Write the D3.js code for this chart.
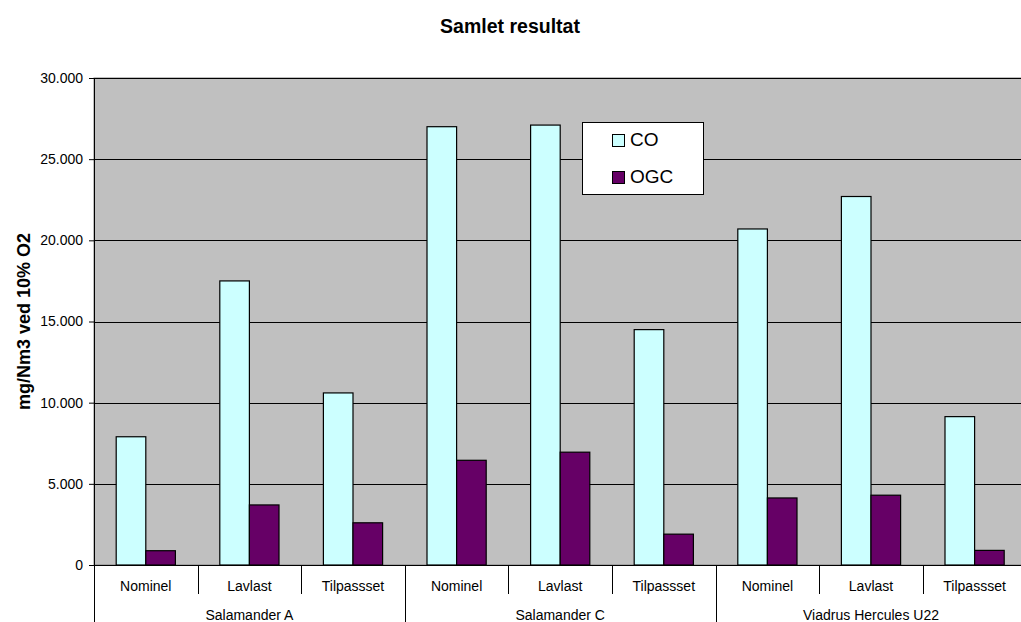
<!DOCTYPE html>
<html>
<head>
<meta charset="utf-8">
<script src="https://cdn.jsdelivr.net/npm/d3@7"></script>
<style>
  html, body { margin: 0; padding: 0; background: #fff; }
  svg { display: block; font-family: "Liberation Sans", Arial, sans-serif; }
</style>
</head>
<body>
<svg id="chart" width="1021" height="622"></svg>
<script>
// Boiler groups and operating conditions
const groups = ["Salamander A", "Salamander C", "Viadrus Hercules U22"];
const conditions = ["Nominel", "Lavlast", "Tilpassset"];
const seriesNames = ["CO", "OGC"];

// Measured emissions, mg/Nm3 at 10% O2 (one entry per group × condition)
const coValues  = [7900, 17500, 10600, 27000, 27100, 14500, 20700, 22700, 9140];
const ogcValues = [880, 3700, 2600, 6450, 6950, 1900, 4130, 4300, 900];

const yTicks = [0, 5000, 10000, 15000, 20000, 25000, 30000];

const colors = { CO: "#CCFFFF", OGC: "#660066" };

// Build one row per category slot
const rows = [];
groups.forEach((g, gi) => {
  conditions.forEach((c, ci) => {
    const i = gi * conditions.length + ci;
    rows.push({ key: g + "|" + c, group: g, cond: c, CO: coValues[i], OGC: ogcValues[i] });
  });
});

const svg = d3.select("#chart");
const plot = { left: 94, top: 78, bottom: 565 };
const step = 103.6;
plot.right = plot.left + step * rows.length;

const fmt = d3.formatLocale({ decimal: ",", thousands: ".", grouping: [3], currency: ["", ""] }).format(",");

const x0 = d3.scaleBand().domain(rows.map(d => d.key)).range([plot.left, plot.right]).paddingInner(0).paddingOuter(0);
const x1 = d3.scaleBand().domain(seriesNames).range([0, x0.bandwidth()]).paddingInner(0).paddingOuter(0.75);
const y = d3.scaleLinear().domain([0, 30000]).range([plot.bottom, plot.top]);

// Title
svg.append("text")
  .attr("x", 510).attr("y", 33)
  .attr("text-anchor", "middle")
  .attr("font-size", 19.5).attr("font-weight", "bold")
  .attr("fill", "#000")
  .text("Samlet resultat");

// Plot area background
svg.append("rect")
  .attr("x", plot.left).attr("y", plot.top)
  .attr("width", plot.right - plot.left).attr("height", plot.bottom - plot.top)
  .attr("fill", "#C0C0C0")
  .attr("stroke", "#808080").attr("stroke-width", 1);

// Horizontal gridlines
svg.append("g")
  .selectAll("line")
  .data(yTicks.filter(t => t > 0))
  .join("line")
  .attr("x1", plot.left).attr("x2", plot.right)
  .attr("y1", d => Math.round(y(d)) + 0.5).attr("y2", d => Math.round(y(d)) + 0.5)
  .attr("stroke", "#000").attr("stroke-width", 1);

// Bars
const cat = svg.append("g")
  .selectAll("g")
  .data(rows)
  .join("g")
  .attr("transform", d => `translate(${x0(d.key)},0)`);

cat.selectAll("rect")
  .data(d => seriesNames.map(s => ({ s, v: d[s] })))
  .join("rect")
  .attr("x", d => x1(d.s))
  .attr("y", d => y(d.v))
  .attr("width", x1.bandwidth())
  .attr("height", d => y(0) - y(d.v))
  .attr("fill", d => colors[d.s])
  .attr("stroke", "#000").attr("stroke-width", 1.2);

// Y axis
const yAxis = d3.axisLeft(y).tickValues(yTicks).tickSize(5).tickPadding(6).tickFormat(d => fmt(d));
const yg = svg.append("g").attr("transform", `translate(${plot.left},0)`).call(yAxis);
yg.select(".domain").attr("stroke", "#000");
yg.selectAll(".tick line").attr("stroke", "#000");
yg.selectAll(".tick text")
  .attr("font-family", "Liberation Sans, Arial, sans-serif")
  .attr("font-size", 14).attr("fill", "#000");

// Y axis title
svg.append("text")
  .attr("transform", `translate(30,${(plot.top + plot.bottom) / 2}) rotate(-90)`)
  .attr("text-anchor", "middle")
  .attr("font-size", 18).attr("font-weight", "bold")
  .attr("fill", "#000")
  .text("mg/Nm3 ved 10% O2");

// Category axis line
svg.append("line")
  .attr("x1", plot.left - 5).attr("x2", plot.right)
  .attr("y1", plot.bottom + 0.5).attr("y2", plot.bottom + 0.5)
  .attr("stroke", "#000").attr("stroke-width", 1);

// Left axis extension down through the label rows
svg.append("line")
  .attr("x1", plot.left + 0.5).attr("x2", plot.left + 0.5)
  .attr("y1", plot.bottom).attr("y2", 622)
  .attr("stroke", "#000");

// Separators between conditions (short) and between groups (long)
const xAxisG = svg.append("g");
rows.forEach((d, i) => {
  if (i === 0) return;
  const xs = Math.round(x0(d.key)) + 0.5;
  const isGroupEdge = i % conditions.length === 0;
  xAxisG.append("line")
    .attr("x1", xs).attr("x2", xs)
    .attr("y1", plot.bottom).attr("y2", isGroupEdge ? 622 : 594)
    .attr("stroke", "#000");
});

// Condition labels
xAxisG.selectAll("text.cond")
  .data(rows)
  .join("text")
  .attr("class", "cond")
  .attr("x", d => x0(d.key) + x0.bandwidth() / 2)
  .attr("y", 591)
  .attr("text-anchor", "middle")
  .attr("font-size", 14).attr("fill", "#000")
  .text(d => d.cond);

// Group labels
xAxisG.selectAll("text.grp")
  .data(groups)
  .join("text")
  .attr("class", "grp")
  .attr("x", (g, gi) => {
    const first = rows[gi * conditions.length].key;
    return x0(first) + x0.bandwidth() * conditions.length / 2;
  })
  .attr("y", 620)
  .attr("text-anchor", "middle")
  .attr("font-size", 14).attr("fill", "#000")
  .text(d => d);

// Legend
const legend = svg.append("g").attr("transform", "translate(582,122)");
legend.append("rect")
  .attr("x", 0.5).attr("y", 0.5).attr("width", 121).attr("height", 72)
  .attr("fill", "#fff").attr("stroke", "#000").attr("stroke-width", 1);
seriesNames.forEach((s, i) => {
  const yy = 12 + i * 37;
  legend.append("rect")
    .attr("x", 30.5).attr("y", yy + 0.5).attr("width", 12).attr("height", 12)
    .attr("fill", colors[s]).attr("stroke", "#000").attr("stroke-width", 1);
  legend.append("text")
    .attr("x", 48).attr("y", yy + 12)
    .attr("font-size", 19).attr("fill", "#000")
    .text(s);
});
</script>
</body>
</html>
